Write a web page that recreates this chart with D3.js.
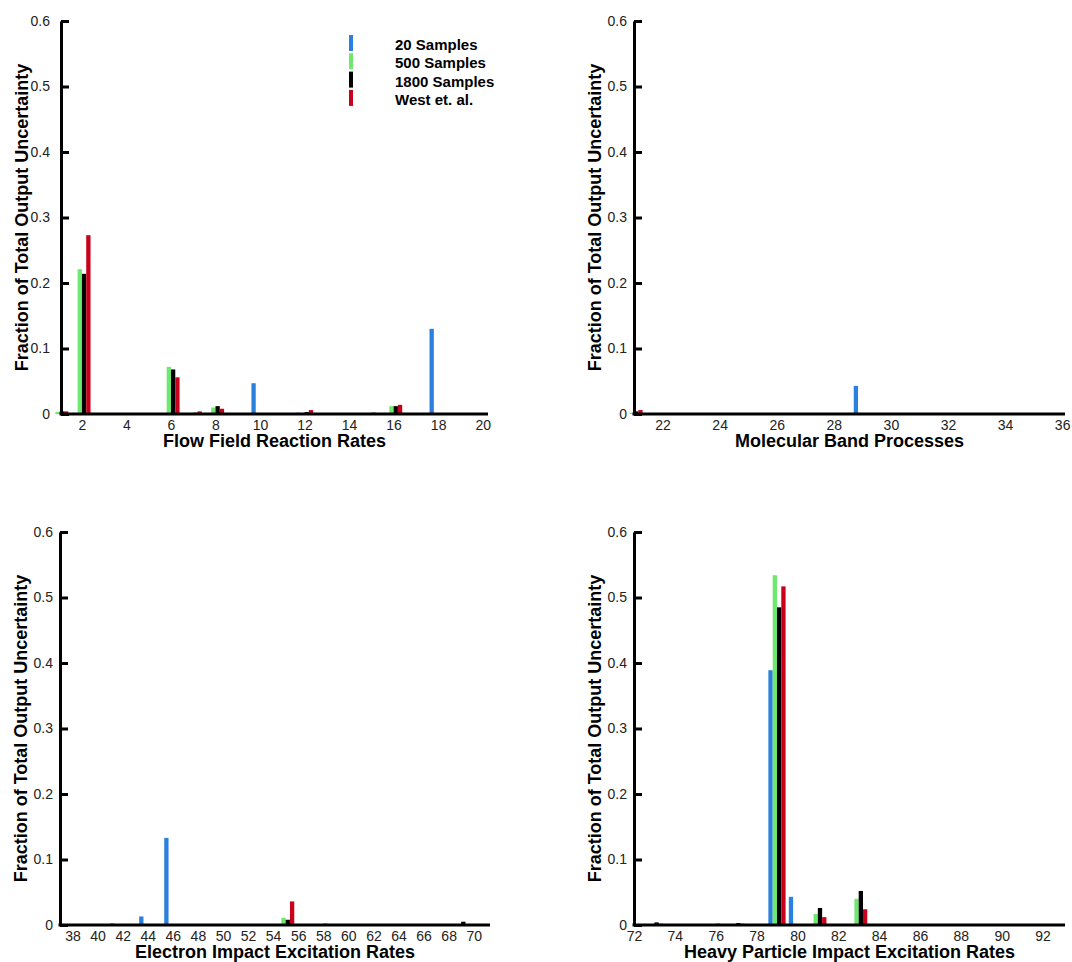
<!DOCTYPE html>
<html>
<head>
<meta charset="utf-8">
<script src="https://cdn.jsdelivr.net/npm/d3@7"></script>
<style>
  body { margin: 0; background: #fff; }
  svg { display: block; font-family: Arial, "Liberation Sans", sans-serif; }
  .tick text { font-size: 14px; fill: #222; }
  .axis-title { font-size: 18px; font-weight: bold; fill: #000; }
  .legend text { font-size: 15px; font-weight: bold; fill: #000; }
</style>
</head>
<body>
<div class="chart"></div>
<script>
// Series
var seriesNames = ["20 Samples", "500 Samples", "1800 Samples", "West et. al."];
var seriesColors = ["#2a80dc", "#6ee86e", "#000000", "#c8001c"];
var yTicks = [0, 0.1, 0.2, 0.3, 0.4, 0.5, 0.6];

// Flow field reaction rates (variables 1-20)
var flowVars  = [1, 2, 6, 7, 8, 10, 12, 15, 16, 18];
var flow20    = [0, 0, 0, 0, 0, 0.047, 0.002, 0, 0, 0.130];
var flow500   = [0.003, 0.221, 0.072, 0, 0.010, 0, 0, 0.001, 0.012, 0];
var flow1800  = [0.004, 0.214, 0.068, 0.002, 0.012, 0, 0.003, 0.002, 0.012, 0];
var flowWest  = [0.004, 0.273, 0.056, 0.004, 0.008, 0, 0.006, 0, 0.014, 0];
var flowTicks = [2, 4, 6, 8, 10, 12, 14, 16, 18, 20];

// Molecular band processes (variables 21-36)
var molVars  = [21, 29];
var mol20    = [0, 0.043];
var mol500   = [0.002, 0];
var mol1800  = [0.004, 0.001];
var molWest  = [0.006, 0];
var molTicks = [22, 24, 26, 28, 30, 32, 34, 36];

// Electron impact excitation rates (variables 37-70)
var elecVars  = [41, 44, 46, 55, 58, 69];
var elec20    = [0, 0.013, 0.133, 0, 0, 0];
var elec500   = [0, 0, 0, 0.011, 0, 0];
var elec1800  = [0.002, 0, 0, 0.008, 0.002, 0.005];
var elecWest  = [0, 0, 0, 0.036, 0, 0];
var elecTicks = [38, 40, 42, 44, 46, 48, 50, 52, 54, 56, 58, 60, 62, 64, 66, 68, 70];

// Heavy particle impact excitation rates (variables 71-92)
var heavyVars  = [73, 76, 77, 79, 80, 81, 83];
var heavy20    = [0, 0, 0, 0.389, 0.043, 0, 0];
var heavy500   = [0, 0, 0, 0.534, 0, 0.017, 0.040];
var heavy1800  = [0.004, 0.002, 0.003, 0.485, 0, 0.026, 0.052];
var heavyWest  = [0.002, 0, 0.002, 0.517, 0, 0.012, 0.024];
var heavyTicks = [72, 74, 76, 78, 80, 82, 84, 86, 88, 90, 92];

var panels = [
  {vars: flowVars, values: [flow20, flow500, flow1800, flowWest], ticks: flowTicks,
   domain: [1.06, 20.24], title: "Flow Field Reaction Rates",
   left: 61, right: 488, top: 21, bottom: 414, pad: 11, legend: true},
  {vars: molVars, values: [mol20, mol500, mol1800, molWest], ticks: molTicks,
   domain: [21, 36.1], title: "Molecular Band Processes",
   left: 634, right: 1065, top: 21, bottom: 414, pad: 7},
  {vars: elecVars, values: [elec20, elec500, elec1800, elecWest], ticks: elecTicks,
   domain: [37, 71.3], title: "Electron Impact Excitation Rates",
   left: 60, right: 490, top: 532, bottom: 925, pad: 7},
  {vars: heavyVars, values: [heavy20, heavy500, heavy1800, heavyWest], ticks: heavyTicks,
   domain: [72, 93.1], title: "Heavy Particle Impact Excitation Rates",
   left: 634, right: 1065, top: 532, bottom: 925, pad: 7}
];

var barWidth = 4.3;

var svg = d3.select(".chart")
  .append("svg")
  .attr("width", 1072)
  .attr("height", 962);

panels.forEach(function(p) {
  var g = svg.append("g");

  var x = d3.scaleLinear().domain(p.domain).range([p.left, p.right]);
  var y = d3.scaleLinear().domain([0, 0.6]).range([p.bottom, p.top]);

  // flatten into one record per non-zero bar
  var bars = [];
  p.vars.forEach(function(v, i) {
    p.values.forEach(function(series, k) {
      if (series[i] > 0) bars.push({v: v, k: k, value: series[i]});
    });
  });

  g.selectAll(".bar")
    .data(bars)
    .enter()
    .append("rect")
    .attr("class", "bar")
    .attr("x", function(d) { return x(d.v) + (d.k - 1.5) * barWidth - barWidth / 2; })
    .attr("y", function(d) { return y(d.value); })
    .attr("width", barWidth)
    .attr("height", function(d) { return y(0) - y(d.value); })
    .attr("fill", function(d) { return seriesColors[d.k]; });

  // y axis, ticks point inward
  var yAxis = g.append("g")
    .attr("transform", "translate(" + p.left + ",0)")
    .call(d3.axisLeft(y)
      .tickValues(yTicks)
      .tickSize(-8)
      .tickSizeOuter(0)
      .tickPadding(p.pad)
      .tickFormat(function(d) { return d === 0 ? "0" : d3.format(".1f")(d); }));
  yAxis.select(".domain").attr("stroke-width", 3);
  yAxis.selectAll(".tick line").attr("stroke-width", 3);

  // x axis, no tick marks
  var xAxis = g.append("g")
    .attr("transform", "translate(0," + p.bottom + ")")
    .call(d3.axisBottom(x)
      .tickValues(p.ticks)
      .tickSize(0)
      .tickSizeOuter(0)
      .tickPadding(6));
  xAxis.select(".domain")
    .attr("stroke-width", 3)
    .attr("d", "M" + (p.left - 1.5) + ",0H" + p.right);

  // axis titles
  g.append("text")
    .attr("class", "axis-title")
    .attr("text-anchor", "middle")
    .attr("x", (p.left + p.right) / 2)
    .attr("y", p.bottom + 33)
    .text(p.title);

  g.append("text")
    .attr("class", "axis-title")
    .attr("text-anchor", "middle")
    .attr("transform", "translate(" + (p.left - 33) + "," + ((p.top + p.bottom) / 2) + ") rotate(-90)")
    .text("Fraction of Total Output Uncertainty");

  if (p.legend) {
    var legend = g.append("g").attr("class", "legend");
    var rows = legend.selectAll("g")
      .data(seriesNames)
      .enter()
      .append("g")
      .attr("transform", function(d, i) { return "translate(0," + (50 + i * 18.3) + ")"; });
    rows.append("rect")
      .attr("x", 349)
      .attr("y", -15)
      .attr("width", 4)
      .attr("height", 16)
      .attr("fill", function(d, i) { return seriesColors[i]; });
    rows.append("text")
      .attr("x", 395)
      .attr("y", 0)
      .text(function(d) { return d; });
  }
});
</script>
</body>
</html>
